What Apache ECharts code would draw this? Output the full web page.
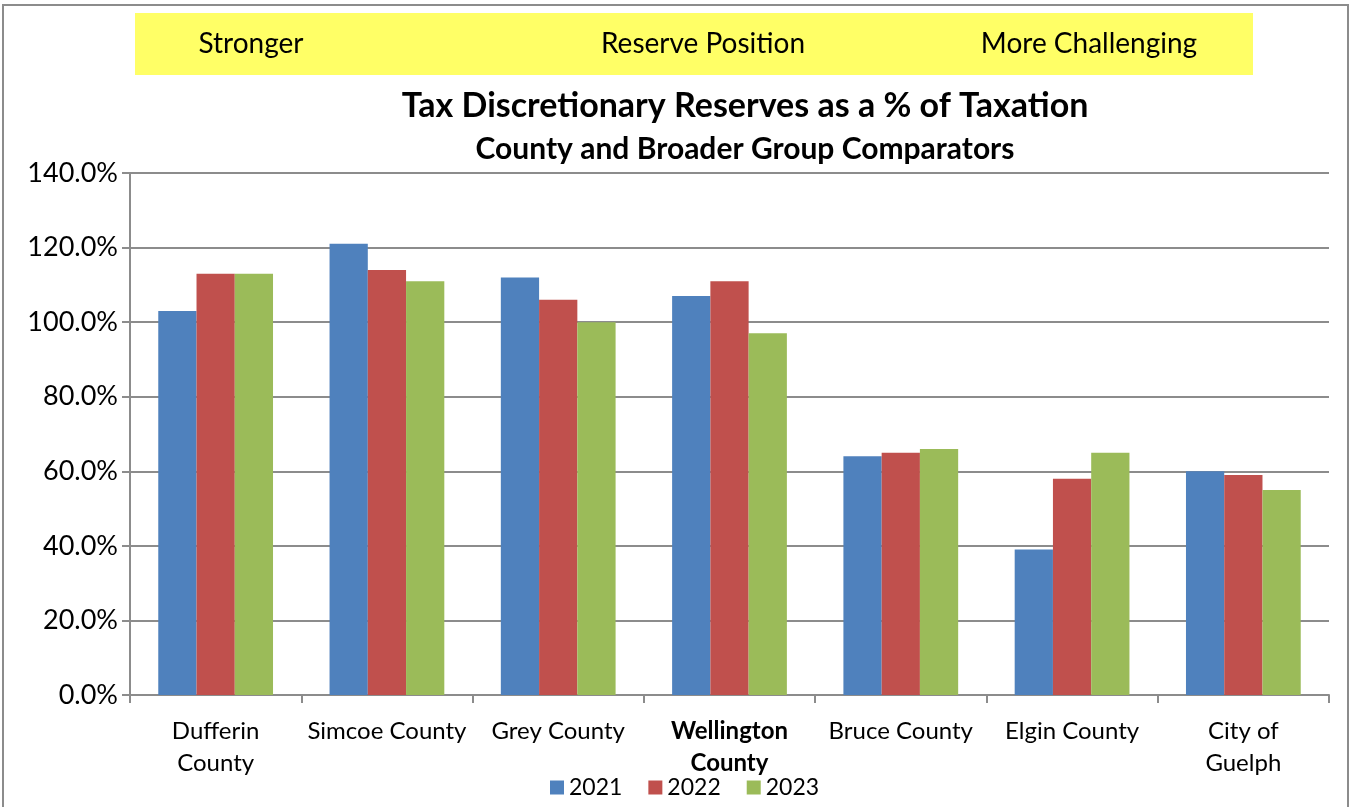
<!DOCTYPE html>
<html>
<head>
<meta charset="utf-8">
<script src="https://cdn.jsdelivr.net/npm/echarts@6/dist/echarts.min.js"></script>
<style>
  html, body { margin: 0; padding: 0; background: #fff; }
  #main { width: 1351px; height: 807px; }
</style>
</head>
<body>
<div id="main"></div>
<script>
const categories = ['Dufferin\nCounty', 'Simcoe County', 'Grey County', 'Wellington\nCounty', 'Bruce County', 'Elgin County', 'City of\nGuelph'];
const years = ['2021', '2022', '2023'];
const values2021 = [103, 121, 112, 107, 64, 39, 60];
const values2022 = [113, 114, 106, 111, 65, 58, 59];
const values2023 = [113, 111, 100, 97, 66, 65, 55];
const bandLabels = ['Stronger', 'Reserve Position', 'More Challenging'];
const colors = ['#4f81bd', '#c0504d', '#9bbb59'];

const chartDom = document.getElementById('main');
const chart = echarts.init(chartDom);
const font = 'Lato, "Noto Sans", sans-serif';

function bandText(x, label) {
    return {
        type: 'text', x: x, y: 44,
        style: {
            text: label, fontSize: 28, fontFamily: font, fill: '#000',
            align: 'center', verticalAlign: 'middle'
        }
    };
}

let option = {
    animation: false,
    textStyle: { fontFamily: font },
    color: colors,
    title: [{
        text: 'Tax Discretionary Reserves as a % of Taxation',
        left: 740,
        top: 84,
        textAlign: 'center',
        textStyle: { fontSize: 34, fontWeight: 'bold', color: '#000', fontFamily: font }
    }, {
        text: 'County and Broader Group Comparators',
        left: 740,
        top: 129,
        textAlign: 'center',
        textStyle: { fontSize: 30, fontWeight: 'bold', color: '#000', fontFamily: font }
    }],
    graphic: [
        {
            type: 'rect',
            shape: { x: 3, y: 5, width: 1345, height: 820 },
            style: { fill: 'none', stroke: '#8c8c8c', lineWidth: 2 },
            silent: true
        },
        {
            type: 'rect',
            shape: { x: 135, y: 13, width: 1118, height: 62 },
            style: { fill: '#ffff66' },
            silent: true
        },
        bandText(251, bandLabels[0]),
        bandText(703, bandLabels[1]),
        bandText(1089, bandLabels[2])
    ],
    legend: {
        bottom: 3,
        left: 545,
        itemWidth: 14,
        itemHeight: 14,
        itemGap: 26,
        icon: 'rect',
        textStyle: { fontSize: 23, color: '#000' },
        data: years
    },
    grid: {
        left: 130,
        right: 22,
        top: 173,
        bottom: 112,
        containLabel: false
    },
    xAxis: {
        type: 'category',
        data: categories,
        axisLine: { lineStyle: { color: '#8c8c8c', width: 2 } },
        axisTick: { show: true, length: 8, lineStyle: { color: '#8c8c8c', width: 2 } },
        axisLabel: {
            fontSize: 24,
            color: '#000',
            margin: 20,
            lineHeight: 32,
            interval: 0,
            formatter: function (v) {
                if (v.indexOf('Wellington') === 0) {
                    return '{b|' + v.replace('\n', '}\n{b|') + '}';
                }
                return v;
            },
            rich: {
                b: { fontWeight: 'bold', fontSize: 24, color: '#000', lineHeight: 32 }
            }
        }
    },
    yAxis: {
        type: 'value',
        min: 0,
        max: 140,
        interval: 20,
        axisLine: { show: true, lineStyle: { color: '#8c8c8c', width: 2 } },
        axisTick: { show: true, length: 8, lineStyle: { color: '#8c8c8c', width: 2 } },
        axisLabel: {
            fontSize: 27,
            color: '#000',
            margin: 12,
            formatter: function (v) { return v.toFixed(1) + '%'; }
        },
        splitLine: { lineStyle: { color: '#8c8c8c', width: 2 } }
    },
    series: [
        { name: years[0], type: 'bar', data: values2021, barGap: '0%', barCategoryGap: '33%' },
        { name: years[1], type: 'bar', data: values2022, barGap: '0%', barCategoryGap: '33%' },
        { name: years[2], type: 'bar', data: values2023, barGap: '0%', barCategoryGap: '33%' }
    ]
};

if (option && typeof option === 'object') {
    chart.setOption(option);
}
</script>
</body>
</html>
